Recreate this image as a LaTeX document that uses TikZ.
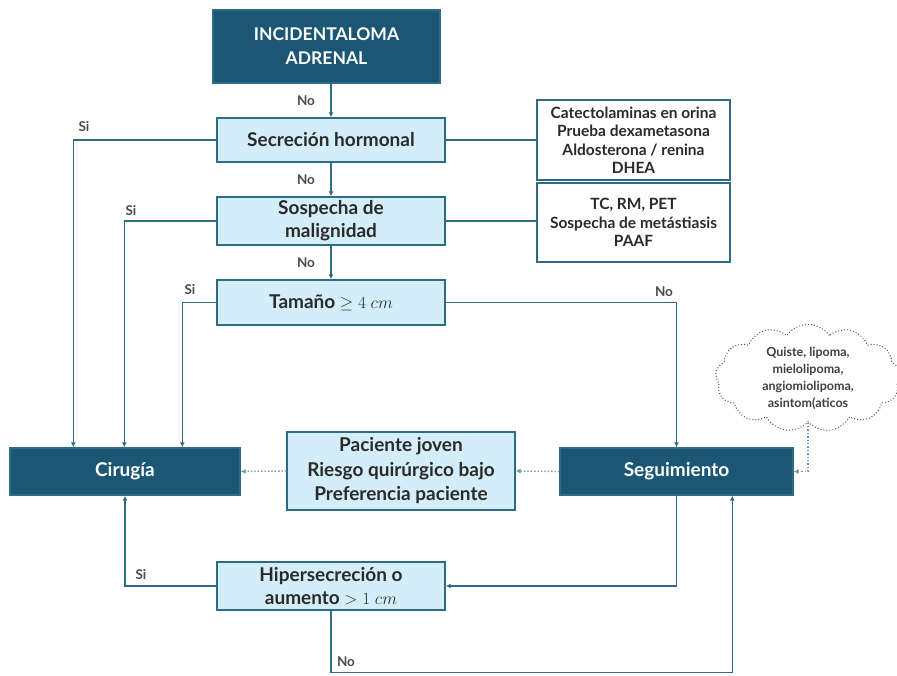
\documentclass[tikz,border=0pt]{standalone}
\usepackage{fontspec}
\setmainfont{Lato}
\usetikzlibrary{shapes.symbols,arrows.meta}
\definecolor{dark}{HTML}{1B5675}
\definecolor{light}{HTML}{D4EEF9}
\definecolor{linec}{HTML}{2F6B83}
\definecolor{txt}{HTML}{2A2A2A}
\begin{document}
\begin{tikzpicture}[x=1pt,y=-1pt,
  darkbox/.style={draw=linec, fill=dark, text=white, font=\bfseries\fontsize{19}{23}\selectfont, align=center, inner sep=0pt, line width=1.4pt},
  lightbox/.style={draw=linec, fill=light, text=txt, font=\bfseries\fontsize{19}{23}\selectfont, align=center, inner sep=0pt, line width=1.4pt},
  whitebox/.style={draw=linec, fill=white, text=txt, font=\bfseries\fontsize{15.5}{18.5}\selectfont, align=center, inner sep=0pt, line width=1.4pt},
  arr/.style={draw=linec, line width=1.4pt, -{Latex[length=5pt,width=5pt]}},
  ln/.style={draw=linec, line width=1.4pt},
  dotarr/.style={draw=linec!70, line width=1.4pt, dotted, -{Latex[length=5pt,width=5pt]}},
  lab/.style={font=\bfseries\fontsize{13.5}{16}\selectfont, text=txt!85}]
\useasboundingbox (0,0) rectangle (897,675);
\node[darkbox, minimum width=227pt, minimum height=73pt, font=\bfseries\fontsize{17.5}{24}\selectfont] (inc) at (326.5,46.5) {INCIDENTALOMA\\ADRENAL};
\node[lightbox, minimum width=228pt, minimum height=44pt] (sec) at (331,140) {Secreción hormonal};
\node[lightbox, minimum width=228pt, minimum height=48pt] (sos) at (331,221) {Sospecha de\\malignidad};
\node[lightbox, minimum width=228pt, minimum height=45pt] (tam) at (331,302.5) {Tamaño $\geq 4\ cm$};
\node[whitebox, minimum width=193pt, minimum height=80pt] (cat) at (633.5,140) {Catectolaminas en orina\\Prueba dexametasona\\Aldosterona / renina\\DHEA};
\node[whitebox, minimum width=193pt, minimum height=79pt] (tc) at (633.5,222.5) {TC, RM, PET\\Sospecha de metástiasis\\PAAF};
\node[darkbox, minimum width=230pt, minimum height=47pt] (cir) at (125,471.5) {Cirugía};
\node[lightbox, minimum width=228pt, minimum height=78pt, font=\bfseries\fontsize{19}{24.5}\selectfont] (mid) at (401,471) {Paciente joven\\Riesgo quirúrgico bajo\\Preferencia paciente};
\node[darkbox, minimum width=233pt, minimum height=47pt] (seg) at (676.5,471.5) {Seguimiento};
\node[lightbox, minimum width=228pt, minimum height=48pt] (hip) at (331,586) {Hipersecreción o\\aumento $>1\ cm$};
\node[cloud, cloud puffs=13, cloud puff arc=110, aspect=2, draw=txt!80, dotted, line width=1pt, fill=white, minimum width=185pt, minimum height=95pt, inner sep=0pt, align=center, font=\bfseries\fontsize{12.5}{17}\selectfont, text=txt!90] (cld) at (808,378) {Quiste, lipoma,\\mielolipoma,\\angiomiolipoma,\\asintom(aticos};
% main trunk
\draw[arr] (sec.north |- inc.south) -- (sec.north) node[lab, midway, left=12pt] {No};
\draw[arr] (sec.south) -- (sos.north) node[lab, midway, left=12pt] {No};
\draw[arr] (sos.south) -- (tam.north) node[lab, midway, left=12pt] {No};
\draw[ln] (sec.east) -- (cat.west |- sec.east);
\draw[ln] (sos.east) -- (tc.west |- sos.east);
% Si branches
\draw[arr] (sec.west) -| ([xshift=64pt]cir.north west);
\node[lab] (si1) at (84,127) {Si};
\draw[arr] (sos.west) -| ([xshift=115pt]cir.north west);
\node[lab] (si2) at (131,211) {Si};
\draw[arr] (tam.west) -| ([xshift=173pt]cir.north west);
\node[lab] (si3) at (190,290) {Si};
\draw[arr] (tam.east) -| (seg.north);
\node[lab] (no4) at (664,292) {No};
% dotted
\draw[dotarr] (seg.west) -- (mid.east);
\draw[dotarr] (mid.west) -- (cir.east);
\draw[dotarr] (cld.south) |- (seg.east);
% follow-up loop
\draw[arr] (seg.south) |- (hip.east);
\draw[arr] (hip.west) -| (cir.south);
\node[lab] (si4) at (141,575) {Si};
\draw[arr] (hip.south) -- ++(0,62) -| ([xshift=173pt]seg.south west);
\node[lab] (no5) at (346,662) {No};
\end{tikzpicture}
\end{document}
